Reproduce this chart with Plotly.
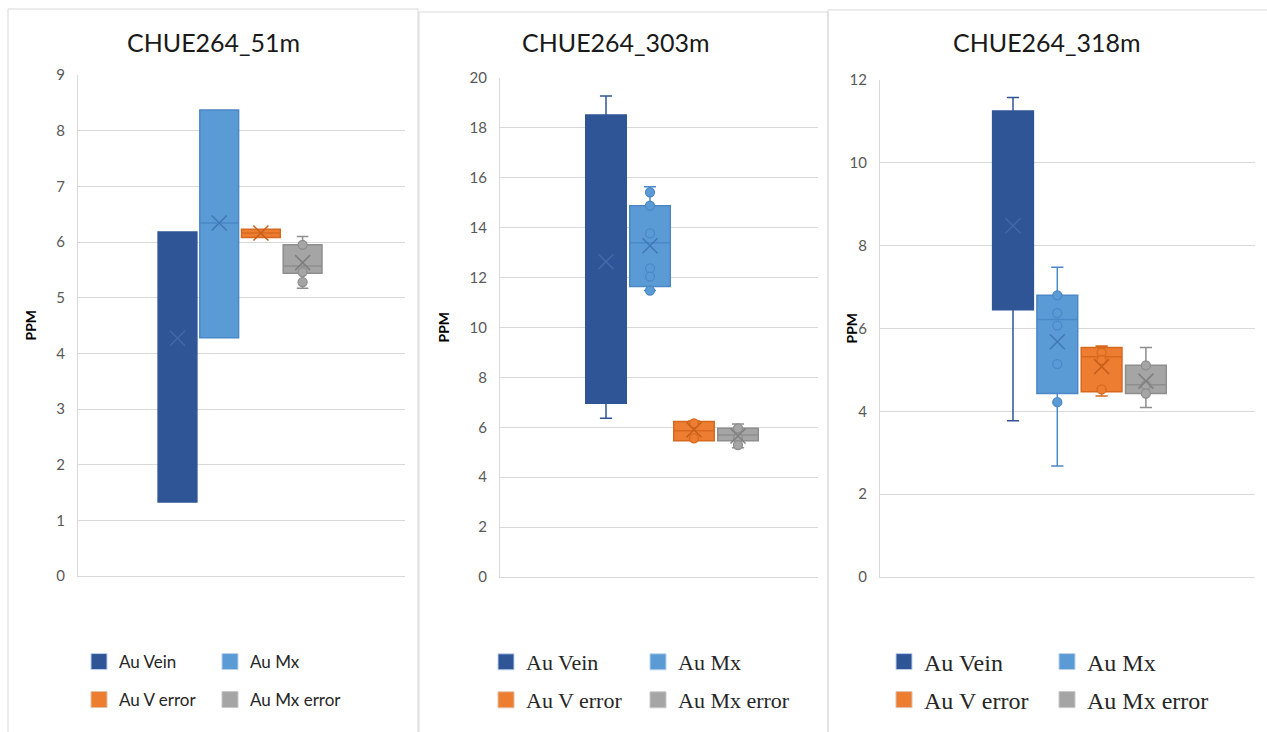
import plotly.graph_objects as go

# ---------------- data ----------------
series = ["Au Vein", "Au Mx", "Au V error", "Au Mx error"]
titles = ["CHUE264_51m", "CHUE264_303m", "CHUE264_318m"]
y_label = "PPM"

# CHUE264_51m
m51_lower = [1.33, 4.28, 6.08, 5.17]
m51_q1 = [1.33, 4.28, 6.08, 5.44]
m51_median = [5.24, 6.34, 6.16, 5.57]
m51_q3 = [6.18, 8.37, 6.23, 5.95]
m51_upper = [6.18, 8.37, 6.23, 6.10]
m51_mean = [4.27, 6.34, 6.16, 5.63]
m51_points = [[], [], [], [5.95, 5.46, 5.28]]

# CHUE264_303m
m303_lower = [6.36, 11.48, 5.46, 5.18]
m303_q1 = [6.96, 11.64, 5.46, 5.46]
m303_median = [12.57, 13.40, 5.86, 5.69]
m303_q3 = [18.52, 14.88, 6.23, 5.96]
m303_upper = [19.28, 15.64, 6.25, 6.13]
m303_mean = [12.64, 13.28, 5.90, 5.65]
m303_points = [[], [15.42, 14.88, 13.77, 12.37, 12.04, 11.48], [6.16, 5.56], [5.96, 5.56, 5.29]]

# CHUE264_318m
m318_lower = [3.77, 2.68, 4.37, 4.09]
m318_q1 = [6.45, 4.43, 4.47, 4.43]
m318_median = [8.48, 6.22, 5.32, 4.64]
m318_q3 = [11.25, 6.80, 5.54, 5.11]
m318_upper = [11.58, 7.48, 5.58, 5.54]
m318_mean = [8.48, 5.68, 5.08, 4.73]
m318_points = [[], [6.80, 6.37, 6.07, 5.14, 4.22], [5.42, 5.24, 4.53], [5.11, 4.63, 4.43]]

y_max = [9, 20, 12]
y_dtick = [1, 2, 2]

# ---------------- styles / layout ----------------
W, H = 1267, 732
fill_colors = ["#2F5597", "#5B9BD5", "#ED7D31", "#A5A5A5"]
line_colors = ["#2F5597", "#4A88C7", "#D7691E", "#8E8E8E"]
mean_colors = ["#4468A6", "#3F78B5", "#C55F1A", "#7F7F7F"]
legend_edge = ["#BDD0EA", "#BDD0EA", "#E0C0A8", "#C8C8C8"]

panels = [
    dict(lower=m51_lower, q1=m51_q1, median=m51_median, q3=m51_q3, upper=m51_upper,
         mean=m51_mean, points=m51_points),
    dict(lower=m303_lower, q1=m303_q1, median=m303_median, q3=m303_q3, upper=m303_upper,
         mean=m303_mean, points=m303_points),
    dict(lower=m318_lower, q1=m318_q1, median=m318_median, q3=m318_q3, upper=m318_upper,
         mean=m318_mean, points=m318_points),
]

SANS = "Lato, Liberation Sans, sans-serif"
SERIF = "Liberation Serif, DejaVu Serif, serif"

# pixel geometry of each panel
geo = [
    dict(px0=78, px1=405, top=75, bottom=576, c0=177.5, ppu=41.7, bw=0.93,
         title_x=213, ylab_x=30, sq_x=100, leg_w=86, frame=(8, 418, 9),
         leg_font=dict(family=SANS, size=17, color="#262626")),
    dict(px0=500, px1=818, top=78, bottom=577, c0=606, ppu=44.0, bw=0.92,
         title_x=616, ylab_x=443, sq_x=507, leg_w=107, frame=(419, 828, 12),
         leg_font=dict(family=SERIF, size=22, color="#262626")),
    dict(px0=880, px1=1255, top=80, bottom=577, c0=1013, ppu=44.3, bw=0.92,
         title_x=1047, ylab_x=851, sq_x=905, leg_w=118, frame=(828, 1290, 10),
         leg_font=dict(family=SERIF, size=24, color="#262626")),
]

fig = go.Figure()
layout = dict(
    width=W, height=H, autosize=False, margin=dict(l=0, r=0, t=0, b=0, pad=0),
    paper_bgcolor="white", plot_bgcolor="white", boxmode="overlay",
    showlegend=True, annotations=[], shapes=[],
    font=dict(family=SANS, color="#595959"),
)

for i, (p, g) in enumerate(zip(panels, geo)):
    n = "" if i == 0 else str(i + 1)
    xa, ya = "x" + n, "y" + n
    leg_a = "legend" if i == 0 else "legend" + str(2 * i + 1)
    leg_b = "legend" + str(2 * i + 2)
    for k, s in enumerate(series):
        fig.add_trace(go.Box(
            x=[s], q1=[p["q1"][k]], median=[p["median"][k]], q3=[p["q3"][k]],
            lowerfence=[p["lower"][k]], upperfence=[p["upper"][k]],
            name=s, fillcolor=fill_colors[k],
            line=dict(color=line_colors[k], width=1.5),
            width=g["bw"], whiskerwidth=0.3, boxpoints=False,
            xaxis=xa, yaxis=ya, showlegend=False, hoverinfo="skip",
        ))
        # legend entry (filled square like the original legend)
        fig.add_trace(go.Scatter(
            x=[None], y=[None], mode="markers", name=s,
            marker=dict(symbol="square", size=16, color=fill_colors[k],
                        line=dict(color=legend_edge[k], width=1)),
            xaxis=xa, yaxis=ya, legend=leg_a if k < 2 else leg_b, hoverinfo="skip",
        ))
        if p["points"][k]:
            fig.add_trace(go.Scatter(
                x=[s] * len(p["points"][k]), y=p["points"][k], mode="markers",
                marker=dict(symbol="circle", size=9, color=fill_colors[k],
                            line=dict(color=line_colors[k], width=1.3)),
                showlegend=False, xaxis=xa, yaxis=ya, hoverinfo="skip",
            ))
        fig.add_trace(go.Scatter(
            x=[s], y=[p["mean"][k]], mode="markers",
            marker=dict(symbol="x-thin", size=15,
                        line=dict(color=mean_colors[k], width=1.5)),
            showlegend=False, xaxis=xa, yaxis=ya, hoverinfo="skip",
        ))

    r0 = -(g["c0"] - g["px0"]) / g["ppu"]
    r1 = (g["px1"] - g["c0"]) / g["ppu"]
    layout["xaxis" + n] = dict(
        domain=[g["px0"] / W, g["px1"] / W], anchor=ya, type="category",
        categoryorder="array", categoryarray=series, range=[r0, r1],
        showticklabels=False, showgrid=False, zeroline=False, automargin=False,
        showline=True, linecolor="#D9D9D9", linewidth=1, fixedrange=True,
    )
    layout["yaxis" + n] = dict(
        domain=[1 - g["bottom"] / H, 1 - g["top"] / H], anchor=xa,
        range=[0, y_max[i]], dtick=y_dtick[i], tick0=0, automargin=False,
        showgrid=True, gridcolor="#D9D9D9", gridwidth=1, zeroline=False,
        showline=True, linecolor="#D9D9D9", linewidth=1,
        ticks="", ticklabelstandoff=9,
        tickfont=dict(family=SANS, size=15, color="#595959"),
        fixedrange=True,
    )
    # legends: two rows per panel
    for leg, yy in ((leg_a, 662), (leg_b, 700)):
        layout[leg] = dict(
            orientation="h", x=(g["sq_x"] - 21) / W, y=1 - yy / H,
            xanchor="left", yanchor="middle", bgcolor="rgba(0,0,0,0)",
            entrywidth=g["leg_w"], entrywidthmode="pixels",
            font=g["leg_font"], traceorder="normal", itemclick=False,
            itemdoubleclick=False,
        )
    # title
    layout["annotations"].append(dict(
        text=titles[i], x=g["title_x"] / W, y=1 - 42 / H, xref="paper", yref="paper",
        xanchor="center", yanchor="middle", showarrow=False,
        font=dict(family=SANS, size=25, color="#1A1A1A"),
    ))
    # y-axis label
    layout["annotations"].append(dict(
        text="<b>" + y_label + "</b>", x=g["ylab_x"] / W,
        y=1 - (g["top"] + g["bottom"]) / 2 / H, xref="paper", yref="paper",
        xanchor="center", yanchor="middle", showarrow=False, textangle=-90,
        font=dict(family=SANS, size=14, color="#000000"),
    ))
    # chart frame
    fx0, fx1, ftop = g["frame"]
    layout["shapes"].append(dict(
        type="rect", xref="paper", yref="paper",
        x0=fx0 / W, x1=fx1 / W, y0=-0.05, y1=1 - ftop / H,
        line=dict(color="#D9D9D9", width=1), fillcolor="rgba(0,0,0,0)", layer="below",
    ))

fig.update_layout(**layout)
fig.write_html(
    "out.html",
    config={"displayModeBar": False, "staticPlot": False},
    post_script="document.body.style.margin='0px';document.body.style.overflow='hidden';",
)
